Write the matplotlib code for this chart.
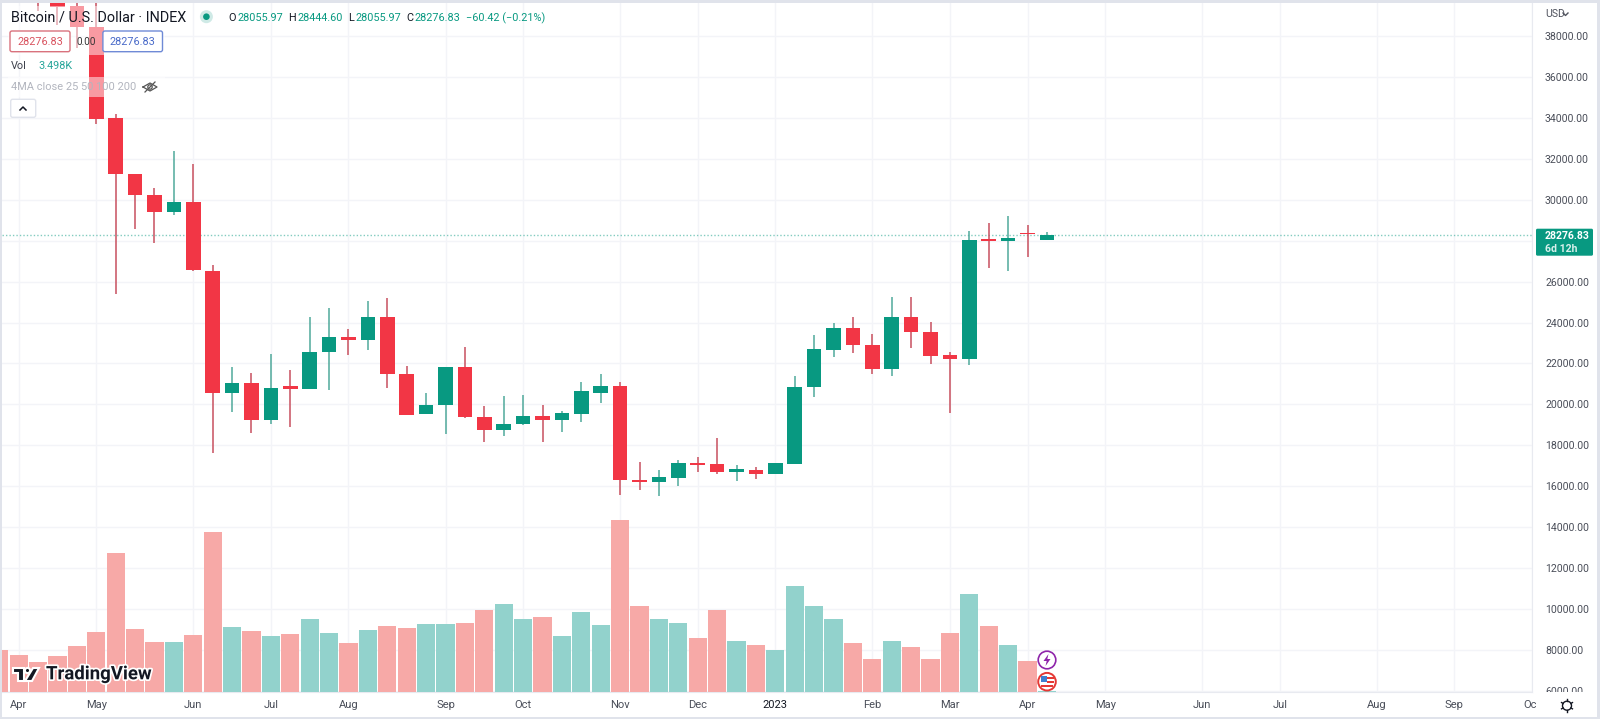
import matplotlib
matplotlib.use('Agg')
import matplotlib.pyplot as plt
import matplotlib.patheffects as pe
import numpy as np
from matplotlib.patches import Rectangle, Circle, Polygon, FancyBboxPatch
from matplotlib.transforms import Bbox

# weekly candles, week 0 is the first one at the left edge (0-2 run off the top)
opens = [46300, 45500, 42200, 40400, 39470, 38460, 33994, 31255, 30260, 29430, 29886,
	26530, 20548, 21037, 19260, 20875, 20760, 22553, 23319, 23172, 24297, 21493,
	19553, 19994, 21852, 19390, 18771, 19032, 19439, 19260, 19553, 20580, 20906,
	16310, 16228, 16424, 17125, 17076, 16700, 16815, 16587, 17108, 20841, 22683,
	23742, 22928, 21738, 24297, 23563, 22406, 22210, 28079, 27981, 28388, 28055.97]
highs = [47400, 46400, 43000, 41000, 40000, 39680, 34222, 31275, 30603, 32380, 31744,
	26823, 21852, 21526, 22471, 21689, 24264, 24704, 23677, 25063, 25210, 21900,
	20564, 21852, 22813, 19928, 20401, 20482, 19961, 19700, 21086, 21493, 21086,
	17174, 16782, 17288, 17434, 18380, 17027, 16945, 17157, 21379, 23400, 23971,
	24264, 23449, 25258, 25258, 24020, 22585, 28486, 28893, 29219, 28779, 28444.60]
lows = [45100, 41600, 39226, 38541, 37433, 33700, 25389, 28598, 27883, 29250, 26500,
	17614, 19635, 18608, 19032, 18901, 20760, 20711, 22422, 22683, 20792, 19505,
	19553, 18559, 19340, 18184, 18478, 19000, 18184, 18673, 19162, 20059, 15592,
	15804, 15511, 16016, 16717, 16587, 16277, 16359, 16587, 17108, 20385, 22341,
	22520, 21477, 21395, 22765, 21982, 19602, 21950, 26677, 26546, 27231, 28055.97]
closes = [45500, 42200, 40400, 39454, 38460, 33977, 31271, 30245, 29430, 29886, 26562,
	20548, 21037, 19260, 20809, 20743, 22585, 23319, 23172, 24297, 21493, 19505,
	19993, 21852, 19390, 18771, 19048, 19439, 19260, 19570, 20646, 20906, 16293,
	16228, 16440, 17125, 17043, 16717, 16831, 16587, 17125, 20857, 22716, 23742,
	22895, 21738, 24297, 23547, 22390, 22210, 28046, 27981, 28160, 28323, 28276.83]

# volume in thousands, down[i] tells the bar colour
volumes = [110, 97, 78, 94, 120, 157, 362, 164, 131, 129, 147, 417, 168, 159, 146, 150,
	191, 154, 127, 162, 172, 166, 178, 178, 179, 214, 230, 191, 196, 146, 209, 175,
	447, 224, 191, 180, 141, 214, 133, 123, 109, 276, 224, 191, 127, 87, 133, 116,
	87, 154, 256, 172, 123, 81, 3.498]
down = [1, 1, 1, 1, 1, 1, 1, 1, 1, 0, 1, 1, 0, 1, 0, 1, 0, 0, 1, 0, 1, 1, 0, 0, 1, 1, 0, 0,
	1, 0, 0, 0, 1, 1, 0, 0, 1, 1, 0, 1, 0, 0, 0, 0, 1, 1, 0, 1, 1, 1, 0, 1, 0, 1, 0]

month_weeks = [1, 5, 10, 14, 18, 23, 27, 32, 36, 40, 45, 49, 53, 57, 62, 66, 71, 75, 79]
month_labels = ['Apr', 'May', 'Jun', 'Jul', 'Aug', 'Sep', 'Oct', 'Nov', 'Dec', '2023',
	'Feb', 'Mar', 'Apr', 'May', 'Jun', 'Jul', 'Aug', 'Sep', 'Oct']
price_ticks = np.arange(6000, 38001, 2000)
last_price = 28276.83

RED = '#f23645'
TEAL = '#089981'
RED_WICK = '#c8505f'
TEAL_WICK = '#4fa99b'
RED_VOL = '#f7a9a7'
TEAL_VOL = '#92d2cc'
GRID = '#f3f4f8'
TXT = '#4a4e59'

plt.rcParams['font.family'] = ['Roboto', 'DejaVu Sans']

W, H = 1600, 719
fig = plt.figure(figsize=(W/100, H/100), dpi=100, facecolor='#e0e3eb')

# panel behind everything, in pixel coords
bg = fig.add_axes([0, 0, 1, 1], zorder=0)
bg.set_xlim(0, W)
bg.set_ylim(H, 0)
bg.axis('off')
bg.add_patch(Rectangle((2, 3), 1595, 714, fc='white', ec='none'))

L, R, T, B = 2, 1532, 3, 692
pos = [L/W, 1-B/H, (R-L)/W, (B-T)/H]

weeks = np.arange(len(opens))
opens = np.array(opens)
closes = np.array(closes)
highs = np.array(highs)
lows = np.array(lows)
is_down = closes < opens

ax = fig.add_axes(pos, zorder=1)
ax.patch.set_alpha(0)
ax.set_xlim(0.141, 78.97)
ax.set_ylim(5936, 39628)
ax.grid(True, color=GRID, lw=1)
ax.set_axisbelow(True)

ax.vlines(weeks[is_down], lows[is_down], highs[is_down], color=RED_WICK, lw=1.1, zorder=2)
ax.vlines(weeks[~is_down], lows[~is_down], highs[~is_down], color=TEAL_WICK, lw=1.1, zorder=2)
body_low = np.minimum(opens, closes)
body_h = np.abs(opens-closes)
ax.bar(weeks, body_h, 0.75, bottom=body_low, color=[RED if d else TEAL for d in is_down], zorder=3)
ax.axhline(last_price, color=TEAL, lw=1, ls=(0, (1, 1.5)), alpha=0.5, zorder=1)

ax.set_xticks(month_weeks)
ax.set_xticklabels(month_labels)
ax.yaxis.tick_right()
ax.set_yticks(price_ticks)
# 28000 sits under the last price tag, so it shows no label
ax.set_yticklabels(['' if p == 28000 else '%.2f' % p for p in price_ticks])
ax.tick_params(axis='x', length=0, pad=6, labelsize=8, labelcolor=TXT)
ax.tick_params(axis='y', length=0, pad=9.4, labelsize=7.6, labelcolor=TXT)
for s in ['top', 'left']:
	ax.spines[s].set_visible(False)
for s in ['right', 'bottom']:
	ax.spines[s].set_color('#e8eaf0')

# 6000.00 and the last Oct are cut by the panes in the original
xlabs = ax.get_xticklabels()
xlabs[9].set_color('#131722')
xlabs[-1].set_clip_on(True)
xlabs[-1].set_clip_box(Bbox([[0, 0], [1536, H]]))
ylabs = ax.get_yticklabels()
ylabs[0].set_clip_on(True)
ylabs[0].set_clip_box(Bbox([[0, H-B], [W, H]]))

ax_vol = fig.add_axes(pos, zorder=2)
ax_vol.patch.set_alpha(0)
ax_vol.set_xlim(ax.get_xlim())
ax_vol.set_ylim(0, 1791)
ax_vol.axis('off')
ax_vol.bar(weeks, volumes, 0.94, color=[RED_VOL if d else TEAL_VOL for d in down])

# overlay for the tradingview furniture
ov = fig.add_axes([0, 0, 1, 1], zorder=3)
ov.set_xlim(0, W)
ov.set_ylim(H, 0)
ov.axis('off')
ov.patch.set_alpha(0)

def label(x, y, s, color=TXT, size=7.8, ha='left', **kw):
	return ov.text(x, y, s, color=color, fontsize=size, ha=ha, va='center', **kw)

# the legend rows wash out what is behind them
for x0, y0, x1, y1 in [(8, 6, 186, 27), (8, 27, 165, 55), (8, 77, 165, 97)]:
	ov.add_patch(Rectangle((x0, y0), x1-x0, y1-y0, fc='white', ec='none', alpha=0.5))

label(10.7, 17.3, 'Bitcoin / U.S. Dollar · INDEX', color='#131722', size=10.35)
ov.add_patch(Circle((206.4, 16.7), 6.5, fc='#cfeae6', ec='none'))
ov.add_patch(Circle((206.4, 16.7), 3.3, fc=TEAL, ec='none'))
for x, s in [(228.6, 'O'), (288.6, 'H'), (348.6, 'L'), (406.4, 'C')]:
	label(x, 18, s, color='#131722')
for x, s in [(237.5, '28055.97'), (297, '28444.60'), (355.4, '28055.97'), (414.3, '28276.83')]:
	label(x, 18, s, color=TEAL)
label(466, 18, '−60.42 (−0.21%)', color=TEAL)

ov.add_patch(FancyBboxPatch((10, 31), 60, 20.7, boxstyle='round,pad=0,rounding_size=2', fc='white', ec='#d9727d', lw=1))
label(40, 41.7, '28276.83', color='#d9535f', ha='center')
label(86, 41.7, '0.00', color='#333333', ha='center', size=7.2)
ov.add_patch(FancyBboxPatch((102.9, 31), 59.6, 20.7, boxstyle='round,pad=0,rounding_size=2', fc='white', ec='#6f8ad6', lw=1))
label(132.7, 41.7, '28276.83', color='#4a6bc9', ha='center')

label(10.7, 66.3, 'Vol', color='#3c404b')
label(38.2, 66.3, '3.498K', color='#26a69a')
label(10.7, 87.3, '4MA close 25 50 100 200', color='#b2b5be', size=7.9)

# crossed out eye
ov.plot([143, 150, 157, 150, 143], [87, 83, 87, 91, 87], color='#555555', lw=0.9)
ov.add_patch(Circle((150, 87), 2.2, fc='none', ec='#555555', lw=0.9))
ov.plot([145, 155], [92, 82], color='#555555', lw=0.9)

ov.add_patch(FancyBboxPatch((10.7, 99.3), 25, 18, boxstyle='round,pad=0,rounding_size=2', fc='white', ec='#e0e3eb', lw=1))
ov.plot([20, 23, 26], [110, 107, 110], color='#131722', lw=1.1)

# right pane
label(1545, 14, 'USD', color='#50535e', size=7.6)
ov.plot([1563, 1565.5, 1568], [13, 15.5, 13], color='#50535e', lw=1)
ov.add_patch(FancyBboxPatch((1536, 228.7), 57, 27, boxstyle='round,pad=0,rounding_size=1.5', fc=TEAL, ec='none'))
label(1545, 236, '%.2f' % last_price, color='white', size=7.6, fontweight='bold')
label(1545, 248.5, '6d 12h', color='#d8f0ec', size=7.6, fontweight='bold')

# gear
ov.add_patch(Circle((1567, 705.7), 4.5, fc='none', ec='#131722', lw=1))
for a in np.arange(0, 360, 60)+30:
	ca, sa = np.cos(np.radians(a)), np.sin(np.radians(a))
	ov.plot([1567+4.5*ca, 1567+6.3*ca], [705.7+4.5*sa, 705.7+6.3*sa], color='#131722', lw=1)

# event badges on the last bar
ov.add_patch(Circle((1047, 660), 8.8, fc='white', ec='#8e24aa', lw=1.2, zorder=5))
ov.add_patch(Polygon([(1048.5, 654), (1043.5, 661), (1046.7, 661), (1045.5, 666), (1050.5, 659), (1047.3, 659)], fc='#8e24aa', ec='none', zorder=6))
ov.add_patch(Circle((1047, 681.7), 8.8, fc='white', ec='#e53935', lw=1.4, zorder=5))
ov.add_patch(Rectangle((1041, 675.5), 6, 6, fc='#3f7fd0', ec='none', zorder=6))
ov.add_patch(Rectangle((1047, 677), 6.5, 1.6, fc='#e53935', ec='none', zorder=6))
ov.add_patch(Rectangle((1047, 681), 7, 1.6, fc='#e53935', ec='none', zorder=6))
ov.add_patch(Rectangle((1041, 685), 12, 1.6, fc='#e53935', ec='none', zorder=6))

# logo
halo = dict(fc='#131722', ec='white', lw=1.5)
ov.add_patch(Polygon([(13, 668), (24, 668), (24, 681), (18, 681), (18, 673), (13, 673)], **halo))
ov.add_patch(Circle((27.5, 670.5), 2.6, **halo))
ov.add_patch(Polygon([(33, 668), (39, 668), (32, 681), (25, 681)], **halo))
t = label(46, 674.3, 'TradingView', color='#131722', size=13.4, fontweight='bold')
t.set_path_effects([pe.withStroke(linewidth=2.5, foreground='white')])

fig.savefig('out.png', dpi=100, facecolor=fig.get_facecolor())
